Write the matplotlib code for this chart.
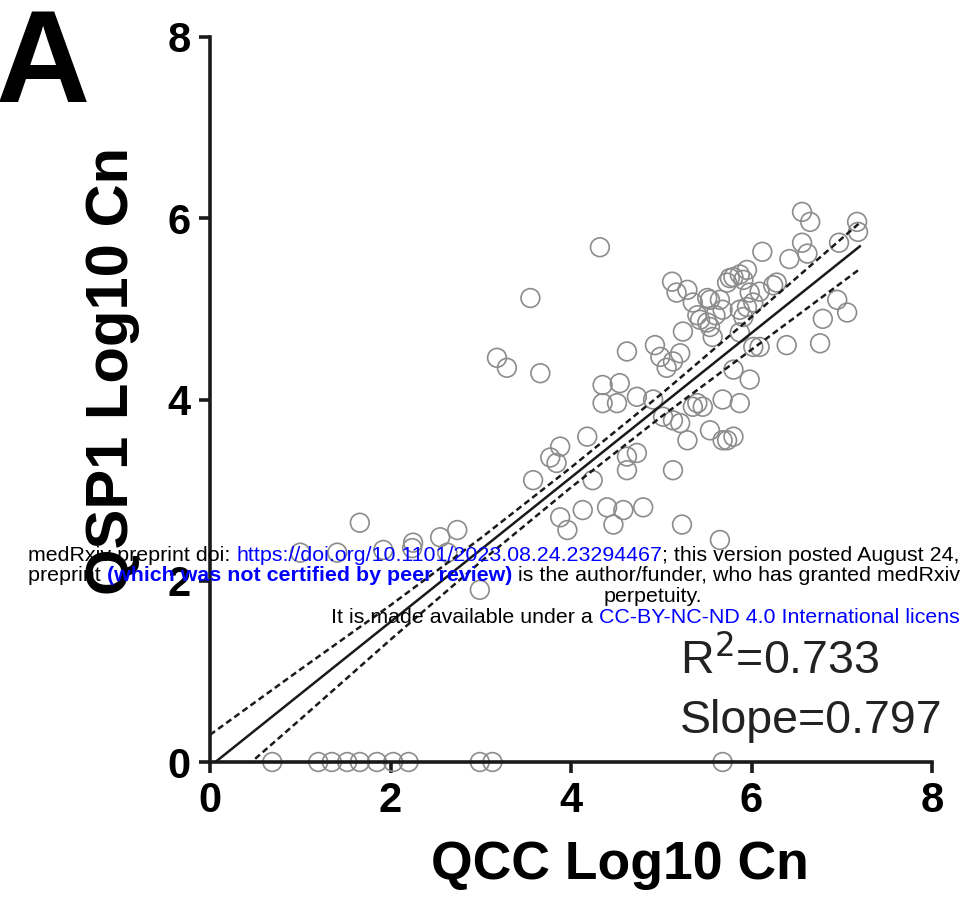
import matplotlib
matplotlib.use("Agg")
import matplotlib.pyplot as plt
from matplotlib.text import Annotation

plt.rcParams["font.family"] = ["Liberation Sans", "DejaVu Sans"]

# scatter points (QCC log10 Cn, QSP1 log10 Cn)
qcc = [4.32, 3.55, 6.56, 6.65, 7.17, 7.18, 6.12, 6.42, 6.56, 6.62, 6.97, 6.79,
       7.06, 6.95, 6.76, 6.39, 6.28, 5.91, 5.80, 5.73, 5.98, 5.54, 5.68, 5.87,
       5.51, 6.09, 5.80, 5.98, 5.68, 5.87, 5.46, 5.54, 5.73, 5.80, 3.18, 3.29,
       3.66, 4.62, 4.93, 5.12, 5.29, 5.17, 5.35, 5.51, 5.76, 5.87, 6.24, 6.09,
       5.95, 5.43, 5.54, 5.24, 4.99, 5.13, 5.21, 5.06, 5.57, 5.87, 6.02, 4.35,
       4.54, 4.35, 4.51, 4.73, 5.02, 4.91, 5.21, 5.29, 5.40, 5.68, 4.18, 3.88,
       3.84, 4.24, 4.62, 4.73, 4.62, 5.13, 3.58, 4.40, 4.58, 4.80, 4.13, 3.88,
       3.96, 4.47, 5.23, 5.65, 1.66, 1.41, 1.00, 2.55, 2.74, 2.63, 2.99, 2.25,
       5.35, 5.65, 5.60, 5.40, 1.92, 2.24, 5.95, 6.02, 5.91, 3.77, 5.13]
qsp1 = [5.68, 5.12, 6.07, 5.96, 5.96, 5.85, 5.63, 5.55, 5.73, 5.61, 5.73, 4.89,
        4.96, 5.10, 4.62, 4.60, 5.29, 5.32, 5.35, 5.29, 5.18, 5.10, 4.99, 4.99,
        4.85, 4.58, 4.33, 4.22, 4.00, 3.96, 3.92, 3.66, 3.55, 3.59, 4.46, 4.35,
        4.29, 4.53, 4.60, 5.30, 5.21, 5.18, 5.07, 5.12, 5.34, 5.38, 5.26, 5.19,
        5.02, 4.88, 4.80, 4.75, 4.47, 4.42, 4.51, 4.35, 4.69, 4.74, 4.58, 4.16,
        4.18, 3.96, 3.96, 4.03, 3.81, 4.00, 3.74, 3.55, 3.96, 3.55, 3.59, 3.48,
        3.30, 3.11, 3.37, 3.41, 3.22, 3.22, 3.11, 2.81, 2.78, 2.81, 2.78, 2.70,
        2.56, 2.62, 2.62, 2.45, 2.64, 2.31, 2.31, 2.48, 2.56, 2.31, 1.90, 2.42,
        3.92, 5.10, 4.93, 4.93, 2.34, 2.36, 5.43, 5.07, 4.91, 3.36, 3.77]

# samples with no QSP1 signal
qcc_zero = [0.69, 1.20, 1.35, 1.52, 1.66, 1.85, 2.03, 2.20, 2.99, 3.13, 5.68]
qsp1_zero = [0] * len(qcc_zero)

# regression line and 95% band
fit_x = [0.06, 7.2]
fit_y = [0.0, 5.69]
band_x = [0, 1, 2, 3, 4, 5, 6, 7.2]
band_hi = [0.30, 1.02, 1.73, 2.47, 3.25, 4.06, 4.91, 5.95]
band_lo = [-0.40, 0.47, 1.35, 2.21, 3.03, 3.81, 4.55, 5.44]

ticks = [0, 2, 4, 6, 8]

fig = plt.figure(figsize=(9.6, 9.06), dpi=100)
ax = fig.add_axes([210 / 960, 144 / 906, 722 / 960, 725 / 906])

ax.scatter(qcc, qsp1, s=13.5 ** 2, facecolors="none", edgecolors="#8c8c8c",
           linewidths=1.2, clip_on=False, zorder=2)
ax.scatter(qcc_zero, qsp1_zero, s=13.5 ** 2, facecolors="none", edgecolors="#8c8c8c",
           linewidths=1.2, clip_on=False, zorder=2)

ax.plot(fit_x, fit_y, color="#1a1a1a", lw=1.8, zorder=3)
ax.plot(band_x, band_hi, color="#1a1a1a", lw=1.8, ls=(0, (2.5, 1.5)), zorder=3)
ax.plot(band_x, band_lo, color="#1a1a1a", lw=1.8, ls=(0, (2.5, 1.5)), zorder=3)

ax.set_xlim(0, 8)
ax.set_ylim(0, 8)
ax.set_xticks(ticks)
ax.set_yticks(ticks)
for s in ["top", "right"]:
    ax.spines[s].set_visible(False)
for s in ["left", "bottom"]:
    ax.spines[s].set_linewidth(2.6)
    ax.spines[s].set_color("#1a1a1a")
    ax.spines[s].set_zorder(4)
ax.tick_params(width=2.6, length=8, color="#1a1a1a", labelsize=30, pad=6)
for lab in ax.get_xticklabels() + ax.get_yticklabels():
    lab.set_fontweight("bold")

fig.text(620 / 960, 1 - 865 / 906, "QCC Log10 Cn", fontsize=38.5, fontweight="bold",
         ha="center", va="center")
fig.text(112 / 960, 1 - 371 / 906, "QSP1 Log10 Cn", fontsize=43, fontweight="bold",
         ha="center", va="center", rotation=90)
fig.text(-0.004, 1 - 6 / 906, "A", fontsize=94, fontweight="bold", ha="left", va="top")

fig.text(680 / 960, 1 - 673 / 906, "R$^2$=0.733", fontsize=33.5, color="#222222",
         ha="left", va="baseline")
fig.text(680 / 960, 1 - 733 / 906, "Slope=0.797", fontsize=33.5, color="#222222",
         ha="left", va="baseline")

# medRxiv stamp over the figure
blue = "#0000ff"
stamp_size = 15.4


def stamp_line(x, y, parts):
    prev = None
    for txt, col, wt in parts:
        if prev is None:
            prev = fig.text(x, y, txt, color=col, fontweight=wt, fontsize=stamp_size,
                            ha="left", va="bottom", zorder=10)
        else:
            prev = fig.add_artist(Annotation(txt, xy=(1, 0), xycoords=prev, color=col,
                                             fontweight=wt, fontsize=stamp_size,
                                             ha="left", va="bottom", zorder=10))
    return prev


stamp_line(28 / 960, 1 - 565 / 906, [
    ("medRxiv preprint doi: ", "black", "normal"),
    ("https://doi.org/10.1101/2023.08.24.23294467", blue, "normal"),
    ("; this version posted August 24, 2023. The copyright holder for this", "black", "normal"),
])
stamp_line(28 / 960, 1 - 585 / 906, [
    ("preprint ", "black", "normal"),
    ("(which was not certified by peer review)", blue, "bold"),
    (" is the author/funder, who has granted medRxiv a license to display the preprint in",
     "black", "normal"),
])
fig.text(653 / 960, 1 - 606 / 906, "perpetuity.", fontsize=stamp_size, ha="center",
         va="bottom", zorder=10)
stamp_line(331 / 960, 1 - 627 / 906, [
    ("It is made available under a ", "black", "normal"),
    ("CC-BY-NC-ND 4.0 International license", blue, "normal"),
    (" .", "black", "normal"),
])

fig.savefig("out.png", dpi=100)
